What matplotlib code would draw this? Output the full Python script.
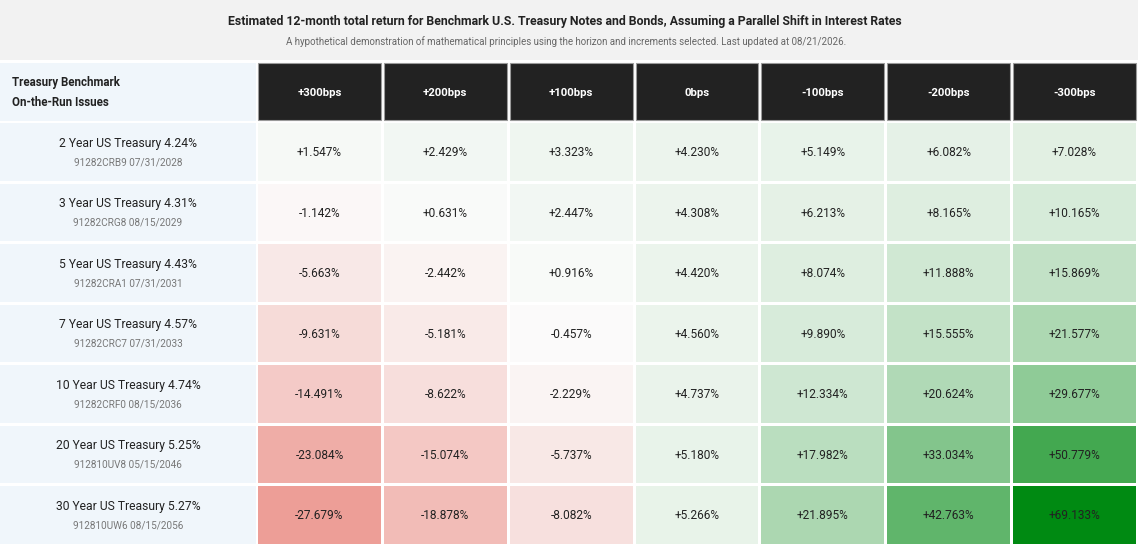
import matplotlib
matplotlib.use("Agg")
import matplotlib.pyplot as plt
from matplotlib.patches import Rectangle
import numpy as np

plt.rcParams['font.family'] = ['Roboto', 'DejaVu Sans']

title = "Estimated 12-month total return for Benchmark U.S. Treasury Notes and Bonds, Assuming a Parallel Shift in Interest Rates"
subtitle = "A hypothetical demonstration of mathematical principles using the horizon and increments selected. Last updated at 08/21/2026."
corner_label = "Treasury Benchmark\nOn-the-Run Issues"

shifts = ["+300bps", "+200bps", "+100bps", "0bps", "-100bps", "-200bps", "-300bps"]
issues = ["2 Year US Treasury 4.24%", "3 Year US Treasury 4.31%", "5 Year US Treasury 4.43%",
          "7 Year US Treasury 4.57%", "10 Year US Treasury 4.74%", "20 Year US Treasury 5.25%",
          "30 Year US Treasury 5.27%"]
cusips = ["91282CRB9 07/31/2028", "91282CRG8 08/15/2029", "91282CRA1 07/31/2031",
          "91282CRC7 07/31/2033", "91282CRF0 08/15/2036", "912810UV8 05/15/2046",
          "912810UW6 08/15/2056"]
returns = np.array([
    [1.547, 2.429, 3.323, 4.230, 5.149, 6.082, 7.028],
    [-1.142, 0.631, 2.447, 4.308, 6.213, 8.165, 10.165],
    [-5.663, -2.442, 0.916, 4.420, 8.074, 11.888, 15.869],
    [-9.631, -5.181, -0.457, 4.560, 9.890, 15.555, 21.577],
    [-14.491, -8.622, -2.229, 4.737, 12.334, 20.624, 29.677],
    [-23.084, -15.074, -5.737, 5.180, 17.982, 33.034, 50.779],
    [-27.679, -18.878, -8.082, 5.266, 21.895, 42.763, 69.133],
])

W, H = 1138, 550
fig = plt.figure(figsize=(W / 100, H / 100), dpi=100)
ax = fig.add_axes([0, 0, 1, 1])
ax.set_xlim(0, W)
ax.set_ylim(H, 0)
ax.axis('off')

GREEN = np.array([0, 138, 18]) / 255
RED = np.array([216, 18, 0]) / 255
vmax = np.abs(returns).max()


def cell_color(v):
    t = min(abs(v) / vmax, 1.0)
    end = GREEN if v >= 0 else RED
    base = np.array([0.985, 0.985, 0.985])
    return tuple(base - t * (base - end))


# title band
ax.add_patch(Rectangle((0, 0), W, 60, facecolor='#f2f2f2', edgecolor='none'))
ax.text(565, 21, title, ha='center', va='center', fontsize=8.8, fontweight='bold', color='#222222')
ax.text(566, 42, subtitle, ha='center', va='center', fontsize=7.0, color='#666666')

# geometry
table_top = 62.5
row_h = 60.5
gap = 3
left_w = 256
col_x0 = 258
col_w = (1136 - col_x0 + gap) / len(shifts)

# left column background
ax.add_patch(Rectangle((0, table_top), left_w, row_h - gap + 0.5, facecolor='#f0f6fb', edgecolor='none'))
ax.text(12, table_top + 30, corner_label, ha='left', va='center', fontsize=8.3, fontweight='bold',
        color='#222222', linespacing=1.75)

# header cells
for j, s in enumerate(shifts):
    x = col_x0 + j * col_w
    ax.add_patch(Rectangle((x, table_top), col_w - gap, row_h - gap, facecolor='#222222',
                           edgecolor='#9a9a9a', linewidth=0.8))
    ax.text(x + (col_w - gap) / 2, table_top + (row_h - gap) / 2 + 1.5, s, ha='center', va='center',
            fontsize=8.2, fontweight='bold', color='white')

# data rows
for i, (name, cus) in enumerate(zip(issues, cusips)):
    y = table_top + (i + 1) * row_h
    h = row_h - gap
    ax.add_patch(Rectangle((0, y), left_w, h, facecolor='#f0f6fb', edgecolor='none'))
    ax.text(128, y + h / 2 - 8.5, name, ha='center', va='center', fontsize=8.7, color='#222222')
    ax.text(128, y + h / 2 + 10.5, cus, ha='center', va='center', fontsize=7.2, color='#777777')
    for j in range(len(shifts)):
        v = returns[i, j]
        x = col_x0 + j * col_w
        ax.add_patch(Rectangle((x, y), col_w - gap, h, facecolor=cell_color(v), edgecolor='none'))
        ax.text(x + (col_w - gap) / 2, y + h / 2 + 1, f"{v:+.3f}%", ha='center', va='center',
                fontsize=8.6, color='#222222')

fig.savefig("out.png", dpi=100, facecolor='white')
